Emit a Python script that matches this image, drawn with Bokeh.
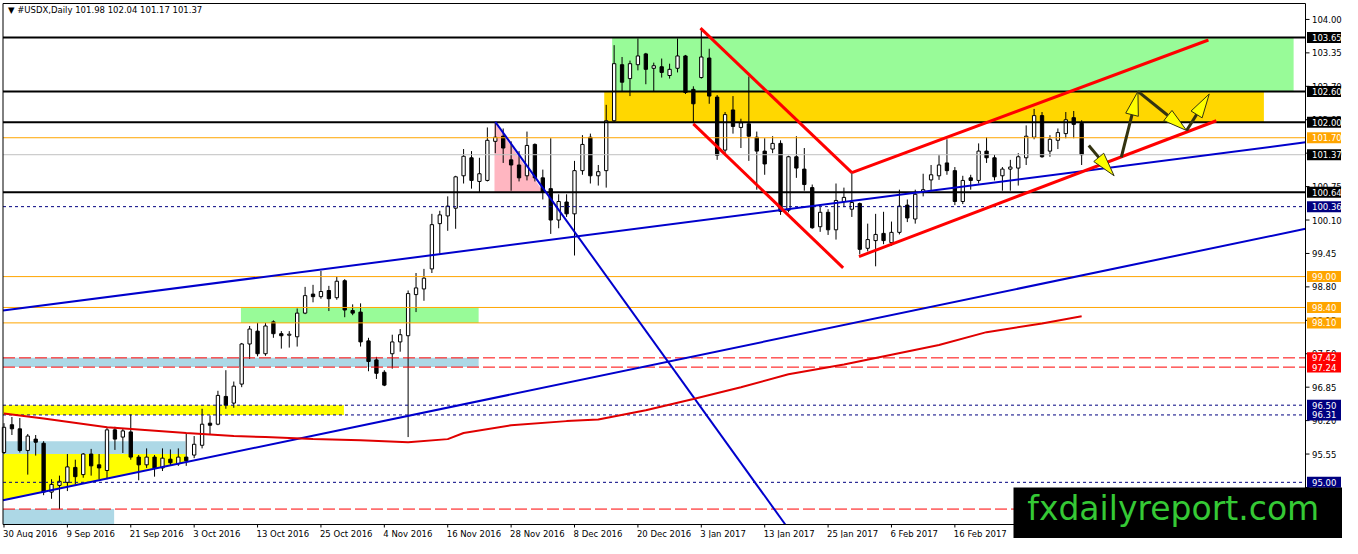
import math
from bokeh.plotting import figure
from bokeh.models import Range1d
from bokeh.core.properties import value
from bokeh.embed import file_html
from bokeh.resources import INLINE

# ---------------- data ----------------
opens = [95.58, 96.12, 96.04, 95.62, 95.84, 95.76, 94.81, 94.94, 95.00, 95.29,
         95.15, 95.55, 95.34, 95.23, 96.02, 95.88, 95.98, 95.49, 95.34, 95.49,
         95.28, 95.45, 95.36, 95.49, 95.53, 95.72, 96.15, 96.13, 96.67, 96.54,
         96.91, 97.69, 97.94, 97.50, 98.12, 97.89, 97.86, 97.83, 98.29, 98.66,
         98.61, 98.73, 98.59, 98.92, 98.34, 98.31, 97.75, 97.38, 97.14, 97.50,
         97.73, 97.85, 98.65, 98.76, 99.15, 100.03, 100.18, 100.33, 100.96, 101.31,
         100.85, 100.87, 101.63, 101.73, 101.27, 101.17, 100.96, 101.57, 100.92, 100.71,
         100.10, 100.45, 100.22, 101.06, 101.71, 100.96, 101.06, 102.03, 103.12, 102.85,
         103.12, 103.33, 103.05, 103.08, 102.91, 103.05, 103.29, 102.64, 102.87, 103.25,
         102.49, 101.46, 102.24, 101.90, 101.97, 101.71, 101.44, 101.48, 101.59, 100.29,
         101.33, 101.09, 100.73, 99.97, 100.25, 99.91, 100.46, 100.31, 100.42, 99.55,
         99.70, 99.84, 99.66, 99.86, 100.39, 100.12, 100.64, 100.88, 100.96, 101.21,
         101.06, 100.46, 100.92, 100.87, 101.44, 101.31, 100.96, 101.09, 101.11, 101.31,
         101.71, 102.13, 101.44, 101.65, 101.78, 102.09, 101.98]
highs = [96.15, 96.27, 96.25, 95.94, 95.92, 95.80, 95.06, 95.13, 95.55, 95.44,
         95.57, 95.65, 95.55, 96.08, 96.08, 96.04, 96.32, 95.53, 95.66, 95.53,
         95.66, 95.64, 95.66, 95.94, 95.90, 96.43, 96.30, 96.78, 97.18, 96.96,
         97.71, 98.04, 98.10, 98.10, 98.15, 97.94, 97.94, 98.38, 98.80, 98.84,
         99.11, 98.82, 99.00, 98.95, 98.46, 98.48, 97.81, 97.44, 97.18, 97.87,
         97.98, 98.73, 99.07, 99.15, 100.22, 100.28, 100.56, 100.96, 101.48, 101.44,
         101.31, 101.90, 102.01, 101.88, 101.63, 101.44, 101.82, 101.59, 101.08, 101.69,
         100.60, 100.60, 101.25, 101.75, 101.78, 101.17, 102.34, 103.50, 103.27, 103.20,
         103.63, 103.35, 103.16, 103.24, 103.14, 103.63, 103.31, 102.70, 103.82, 103.43,
         102.53, 102.20, 102.51, 102.07, 102.89, 101.82, 101.69, 101.73, 101.65, 101.35,
         101.73, 101.50, 100.79, 100.35, 100.31, 100.81, 100.73, 101.02, 100.44, 100.03,
         100.22, 100.26, 100.07, 100.69, 100.50, 100.69, 101.00, 101.17, 101.36, 101.67,
         101.13, 100.96, 100.98, 101.59, 101.71, 101.37, 101.13, 101.27, 101.40, 101.94,
         102.26, 102.20, 101.75, 101.88, 102.20, 102.22, 102.04]
lows = [95.55, 95.92, 95.58, 95.15, 95.52, 94.75, 94.68, 94.48, 94.83, 94.96,
        95.09, 95.13, 95.06, 95.06, 95.63, 95.57, 95.44, 95.04, 95.28, 95.11,
        95.22, 95.32, 95.32, 95.32, 95.47, 95.66, 95.92, 96.11, 96.43, 96.45,
        96.85, 97.40, 97.45, 97.46, 97.81, 97.60, 97.62, 97.64, 98.27, 98.50,
        98.57, 98.33, 98.55, 98.21, 98.25, 97.64, 97.16, 97.01, 96.87, 97.21,
        97.54, 95.88, 98.31, 98.53, 99.07, 99.45, 99.89, 99.93, 100.81, 100.71,
        100.64, 100.85, 101.40, 101.21, 100.67, 100.85, 100.87, 100.85, 100.50, 99.83,
        99.94, 100.16, 99.41, 100.98, 100.81, 100.77, 100.73, 102.01, 102.60, 102.51,
        103.01, 102.74, 102.60, 102.87, 102.85, 102.97, 102.55, 101.98, 102.85, 102.36,
        101.27, 101.40, 101.78, 101.50, 101.25, 100.69, 100.98, 101.40, 100.20, 100.25,
        100.92, 100.67, 99.93, 99.87, 99.81, 99.72, 100.35, 100.16, 99.43, 99.49,
        99.20, 99.63, 99.60, 99.82, 100.06, 100.03, 100.56, 100.67, 100.88, 100.98,
        100.39, 100.41, 100.69, 100.81, 101.21, 100.87, 100.67, 100.67, 100.77, 101.17,
        101.67, 101.31, 101.33, 101.48, 101.69, 101.69, 101.17]
closes = [96.07, 96.04, 95.62, 95.90, 95.78, 94.81, 94.96, 95.02, 95.30, 95.11,
          95.55, 95.32, 95.28, 96.02, 95.84, 96.00, 95.49, 95.34, 95.49, 95.28,
          95.47, 95.38, 95.49, 95.42, 95.74, 96.13, 96.11, 96.69, 96.50, 96.87,
          97.69, 97.98, 97.50, 98.04, 97.89, 97.85, 97.88, 98.29, 98.63, 98.61,
          98.71, 98.57, 98.91, 98.35, 98.29, 97.73, 97.35, 97.12, 96.89, 97.73,
          97.87, 98.67, 98.78, 98.97, 100.01, 100.20, 100.37, 100.94, 101.34, 100.87,
          101.00, 101.65, 101.71, 101.50, 101.17, 100.92, 101.55, 100.92, 100.64, 100.10,
          100.46, 100.22, 101.06, 101.57, 100.96, 101.04, 102.03, 103.14, 102.78, 103.14,
          103.29, 103.03, 103.10, 102.97, 103.03, 103.29, 102.58, 102.36, 103.27, 102.51,
          101.36, 102.15, 101.92, 101.99, 101.73, 101.44, 101.19, 101.59, 100.27, 101.33,
          101.11, 100.79, 99.95, 100.25, 99.91, 100.48, 100.54, 100.44, 99.53, 99.72,
          99.82, 99.70, 99.86, 100.37, 100.14, 100.60, 100.69, 100.98, 101.17, 101.06,
          100.46, 100.87, 100.87, 101.44, 101.31, 100.94, 101.09, 101.13, 101.33, 101.73,
          102.13, 101.33, 101.67, 101.80, 102.05, 101.96, 101.37]

date_labels = ["30 Aug 2016", "9 Sep 2016", "21 Sep 2016", "3 Oct 2016", "13 Oct 2016",
               "25 Oct 2016", "4 Nov 2016", "16 Nov 2016", "28 Nov 2016", "8 Dec 2016",
               "20 Dec 2016", "3 Jan 2017", "13 Jan 2017", "25 Jan 2017", "6 Feb 2017",
               "16 Feb 2017"]
date_bars = [0, 8, 16, 24, 32, 40, 48, 56, 64, 72, 80, 88, 96, 104, 112, 120]

price_ticks = [104.00, 103.35, 102.70, 102.05, 101.40, 100.75, 100.10, 99.45,
               98.80, 98.15, 97.50, 96.85, 96.20, 95.55, 94.90]

# moving average, sampled along the drawn curve
ma_bars = [0, 5, 13, 23, 29, 33, 39, 45, 51, 56, 58, 64, 71, 75, 81, 87, 93, 99,
           106, 112, 118, 124, 131, 136]
ma_values = [96.34, 96.24, 96.07, 95.96, 95.90, 95.88, 95.84, 95.82, 95.78, 95.84,
             95.96, 96.11, 96.19, 96.22, 96.40, 96.62, 96.85, 97.10, 97.29, 97.48,
             97.67, 97.92, 98.09, 98.23]

# horizontal levels
black_levels = [103.65, 102.60, 102.00, 100.64]
orange_levels = [101.70, 99.00, 98.40, 98.10]
navy_levels = [100.36, 96.50, 96.31, 95.00]
red_levels = [97.42, 97.24, 94.48]
bid_level = 101.37

# price tags on the scale
tag_prices = [103.65, 102.60, 102.00, 101.70, 101.37, 100.64, 100.36, 99.00, 98.40,
              98.10, 97.42, 97.24, 96.50, 96.31, 95.00]
tag_colors = ["black", "black", "black", "#FFA500", "black", "black", "#000080",
              "#FFA500", "#FFA500", "#FFA500", "#FF0000", "#FF0000", "#000080",
              "#000080", "#000080"]

# zones (bar index / price)
zone_left = [76.75, 75.75, 29.9, -0.125, -0.125, -0.125, -0.125]
zone_right = [162.75, 159.0, 59.9, 59.9, 42.9, 22.9, 13.9]
zone_top = [103.65, 102.60, 98.40, 97.42, 96.50, 95.80, 94.48]
zone_bottom = [102.60, 102.00, 98.10, 97.24, 96.31, 95.55, 94.18]
zone_colors = ["#98FB98", "#FFD700", "#98FB98", "#ADD8E6", "#FFFF00", "#ADD8E6", "#ADD8E6"]

pink_x = [61.9, 61.9, 68.1]
pink_y = [102.00, 100.64, 100.64]
yellow_tri_x = [-0.125, 22.9, 22.9, -0.125]
yellow_tri_y = [95.55, 95.55, 95.40, 94.65]

# trend lines
blue_lines_x = [[-0.125, 164.25], [-0.125, 164.25], [62.0, 98.6]]
blue_lines_y = [[94.65, 99.93], [98.34, 101.61], [102.01, 94.18]]
red_lines_x = [[87.9, 107.0], [87.0, 105.9], [107.0, 152.0], [107.9, 153.0]]
red_lines_y = [[103.83, 101.02], [101.97, 99.17], [101.02, 103.60], [99.39, 102.03]]

zigzag_x = [141.0, 143.1, 149.25, 152.1]
zigzag_y = [101.32, 102.60, 101.84, 102.55]
down_arrow_x = [136.9, 140.1]
down_arrow_y = [101.55, 100.96]

title_text = "\u25BC #USDX,Daily  101.98 102.04 101.17 101.37"
watermark = "fxdailyreport.com"

FONT = "DejaVu Sans"

# ---------------- layout of the canvas (chart area + price scale + date scale) ----------------
W, H = 1342, 538
CH_L, CH_R = -0.125, 164.25      # chart area in bar units
CH_B, CH_T = 94.18, 104.31       # chart area in price units
PXB = (1305.0 - 2.5) / (CH_R - CH_L)   # pixels per bar
X0 = CH_L - 2.5 / PXB
X1 = X0 + W / PXB
PXP = 521.0 / (CH_T - CH_B)            # pixels per price unit
Y1 = CH_T + 3.0 / PXP
Y0 = Y1 - H / PXP

p = figure(width=W, height=H, x_range=Range1d(X0, X1), y_range=Range1d(Y0, Y1),
           x_axis_location=None, y_axis_location=None,
           output_backend="svg", toolbar_location=None, min_border=0,
           background_fill_color="white", border_fill_color="white",
           outline_line_color=None)
for g in p.grid:
    g.visible = False

# zones
p.quad(left=zone_left, right=zone_right, top=zone_top, bottom=zone_bottom,
       fill_color=zone_colors, line_color=None)
p.patch(yellow_tri_x, yellow_tri_y, fill_color="#FFFF00", line_color=None)
p.patch(pink_x, pink_y, fill_color="#FFB6C1", line_color=None)

# candles
bars = list(range(len(opens)))
up_x = [i for i in bars if closes[i] >= opens[i]]
dn_x = [i for i in bars if closes[i] < opens[i]]
p.segment(x0=bars, y0=lows, x1=bars, y1=highs, line_color="black", line_width=1)
p.vbar(x=up_x, width=0.42, top=[closes[i] for i in up_x], bottom=[opens[i] for i in up_x],
       fill_color="white", line_color="black", line_width=1)
p.vbar(x=dn_x, width=0.42, top=[opens[i] for i in dn_x], bottom=[closes[i] for i in dn_x],
       fill_color="black", line_color="black", line_width=1)

# horizontal levels
x_full = [CH_L, CH_R]
p.line(x_full, [bid_level, bid_level], line_color="#C0C0C0", line_width=1)
for lv in orange_levels:
    p.line(x_full, [lv, lv], line_color="#FFA500", line_width=1)
for lv in navy_levels:
    p.line(x_full, [lv, lv], line_color="#000080", line_width=1, line_dash="3 3")
for lv in red_levels:
    p.line(x_full, [lv, lv], line_color="#FF0000", line_width=1, line_dash="12 4")
for lv in black_levels:
    p.line(x_full, [lv, lv], line_color="black", line_width=2)

# trend lines and moving average
p.multi_line(blue_lines_x, blue_lines_y, line_color="#0000CC", line_width=2)
p.line(ma_bars, ma_values, line_color="#E00000", line_width=2)
p.multi_line(red_lines_x, red_lines_y, line_color="#FF0000", line_width=3)

# arrows (shaft + long yellow head)
def arrow(x0, y0, x1, y1):
    dx, dy = (x1 - x0) * PXB, (y1 - y0) * PXP
    L = math.hypot(dx, dy)
    ux, uy = dx / L, dy / L
    hl, hw = 24.0, 6.5
    bx, by = -ux * hl, -uy * hl
    nx, ny = -uy * hw, ux * hw
    base = (x1 + bx / PXB, y1 + by / PXP)
    p.line([x0, base[0]], [y0, base[1]], line_color="#333311", line_width=3)
    hx = [x1, x1 + (bx + nx) / PXB, x1 + (bx - nx) / PXB]
    hy = [y1, y1 + (by + ny) / PXP, y1 + (by - ny) / PXP]
    p.patch(hx, hy, fill_color="#FFFF00", line_color="#333311", line_width=1)

arrow(down_arrow_x[0], down_arrow_y[0], down_arrow_x[1], down_arrow_y[1])
for k in range(len(zigzag_x) - 1):
    arrow(zigzag_x[k], zigzag_y[k], zigzag_x[k + 1], zigzag_y[k + 1])

# chart border
p.quad(left=[CH_L], right=[CH_R], top=[CH_T], bottom=[CH_B], fill_color=None,
       line_color="black", line_width=1)

# price scale
tick_len = 4.0 / PXB
p.segment(x0=[CH_R] * len(price_ticks), y0=price_ticks,
          x1=[CH_R + tick_len] * len(price_ticks), y1=price_ticks,
          line_color="black", line_width=1)
lab_x = CH_R + 6.5 / PXB
p.text(x=[lab_x] * len(price_ticks), y=price_ticks,
       text=[f"{t:.2f}" for t in price_ticks], text_font=value(FONT),
       text_font_size="8.5px", text_color="black", text_baseline="middle",
       text_align="left")

# price tags
half_h = 5.5 / PXP
p.quad(left=[CH_R + 1.5 / PXB] * len(tag_prices), right=[CH_R + 35.5 / PXB] * len(tag_prices),
       top=[t + half_h for t in tag_prices], bottom=[t - half_h for t in tag_prices],
       fill_color=tag_colors, line_color=None)
p.text(x=[lab_x] * len(tag_prices), y=tag_prices,
       text=[f"{t:.2f}" for t in tag_prices], text_font=value(FONT),
       text_font_size="8.5px", text_color="white", text_baseline="middle",
       text_align="left")

# date scale
date_y = CH_B - 9.0 / PXP
p.segment(x0=date_bars, y0=[CH_B] * len(date_bars), x1=date_bars,
          y1=[CH_B - 3.0 / PXP] * len(date_bars), line_color="black", line_width=1)
p.text(x=[b - 1.0 / PXB for b in date_bars], y=[date_y] * len(date_bars),
       text=date_labels, text_font=value(FONT), text_font_size="8.5px",
       text_color="black", text_baseline="middle", text_align="left")

# title
p.text(x=[0.5], y=[CH_T - 6.0 / PXP], text=[title_text], text_font=value(FONT),
       text_font_size="8.5px", text_color="black", text_baseline="middle",
       text_align="left")

# watermark (box reaches the lower right corner of the canvas)
p.quad(left=[127.4], right=[X1], top=[94.90], bottom=[Y0],
       fill_color="black", line_color=None)
p.text(x=[(127.4 + X1) / 2 - 0.6], y=[94.50], text=[watermark], text_font=value(FONT),
       text_font_size="33px", text_color="#35C935", text_baseline="middle",
       text_align="center")

open("out.html", "w").write(file_html(p, INLINE))
